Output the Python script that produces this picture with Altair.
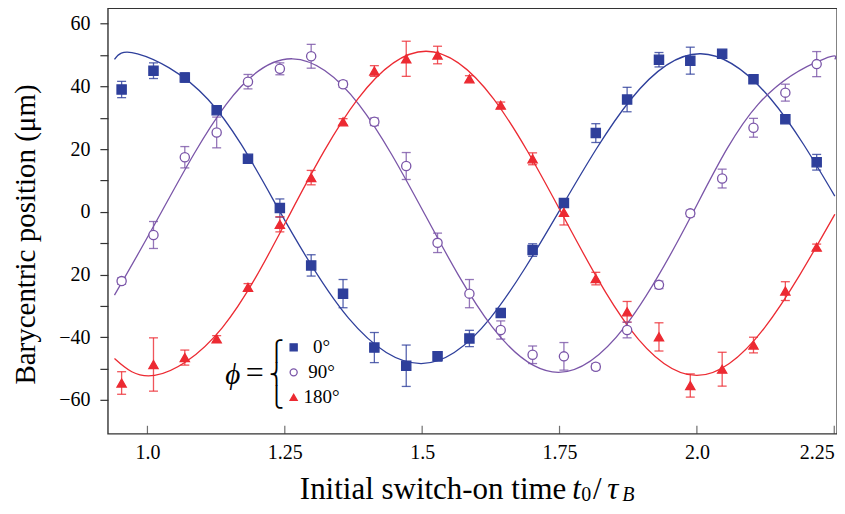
import altair as alt
import pandas as pd

# ---------------- data ----------------
phases = ["0°", "90°", "180°"]

t_values = [0.953, 1.011, 1.068, 1.126, 1.183, 1.241, 1.298, 1.356, 1.413, 1.471,
            1.528, 1.586, 1.643, 1.701, 1.758, 1.816, 1.873, 1.931, 1.988, 2.046,
            2.103, 2.161, 2.218]

pos_0 = [39.0, 45.0, 42.8, 32.4, 16.9, 1.2, -17.1, -26.1, -43.3, -49.1, -46.1, -40.4,
         -32.3, -12.2, 2.8, 25.1, 35.8, 48.5, 48.2, 50.4, 42.3, 29.5, 15.8]
err_0 = [2.6, 2.5, 1.5, 1.0, 1.0, 2.9, 3.4, 4.5, 4.8, 6.6, 1.5, 2.6, 1.2, 2.0, 1.0,
         3.0, 3.9, 2.3, 4.3, 1.0, 1.0, 1.0, 2.5]

pos_90 = [-22.1, -7.4, 17.4, 25.3, 41.5, 45.6, 49.6, 40.7, 28.7, 14.6, -9.9, -26.1,
          -37.7, -45.6, -46.1, -49.4, -37.7, -23.3, -0.5, 10.6, 26.8, 38.0, 47.1]
err_90 = [1.0, 4.3, 3.4, 4.9, 2.3, 1.9, 3.8, 1.0, 1.2, 4.3, 3.1, 4.5, 2.9, 2.8, 4.4,
          1.0, 2.5, 1.2, 1.0, 3.0, 3.0, 2.7, 4.0]

pos_180 = [-54.6, -48.7, -46.5, -40.5, -24.1, -4.0, 10.9, 28.7, 44.9, 48.8, 50.0, 42.4,
           34.0, 16.9, -0.2, -21.3, -31.9, -39.9, -55.4, -50.2, -42.5, -25.3, -11.3]
err_180 = [3.6, 8.5, 2.4, 1.0, 1.2, 2.4, 2.3, 1.0, 1.7, 5.6, 2.8, 1.0, 1.0, 1.9, 4.0,
           2.0, 3.3, 4.5, 3.7, 5.4, 2.5, 3.0, 1.0]

# fitted curves, knots (peaks, troughs, crossings, mid points)
curve_t_0 = [0.940, 0.982, 1.110, 1.238, 1.366, 1.498, 1.624, 1.752, 1.880, 2.007, 2.135, 2.251]
curve_y_0 = [48.6, 50.4, 35.9, 1.0, -33.9, -48.4, -33.9, 1.0, 35.9, 50.4, 35.9, 5.0]

curve_t_90 = [0.940, 1.022, 1.143, 1.264, 1.385, 1.506, 1.627, 1.748, 1.869, 1.990, 2.111, 2.232, 2.251]
curve_y_90 = [-26.6, -1.2, 34.2, 48.8, 34.2, -1.2, -36.6, -51.2, -36.6, -1.2, 34.2, 48.8, 48.6]

curve_t_180 = [0.940, 1.013, 1.136, 1.260, 1.383, 1.507, 1.630, 1.754, 1.877, 2.000, 2.123, 2.251]
curve_y_180 = [-46.8, -52.2, -37.0, -0.5, 36.0, 51.2, 36.0, -0.5, -37.0, -52.2, -37.0, -0.8]

x_ticks = [1.0, 1.25, 1.5, 1.75, 2.0, 2.25]
x_tick_labels = ["1.0", "1.25", "1.5", "1.75", "2.0", "2.25"]
y_ticks = [-60, -50, -40, -30, -20, -10, 0, 10, 20, 30, 40, 50, 60]
y_tick_labels = ["−60", "", "−40", "", "20", "", "0", "", "20", "", "40", "", "60"]

y_title = "Barycentric position (μm)"
x_title_parts = ["Initial switch-on time", "t", "0", "/", "τ", "B"]
legend_lead = ["ϕ", "=", "⎧\n⎨\n⎩"]

# ---------------- styling ----------------
SERIF = "Liberation Serif"
BLUE, PURPLE, RED = "#2E3F9B", "#7A55A8", "#EC2A32"
FRAME = "#333333"

rows = []
for ph, ys, es in zip(phases, [pos_0, pos_90, pos_180], [err_0, err_90, err_180]):
    for t, y, e in zip(t_values, ys, es):
        rows.append(dict(phase=ph, t=t, pos=y, lo=y - e, hi=y + e))
pts = pd.DataFrame(rows)

crows = []
for ph, cts, cys in zip(phases, [curve_t_0, curve_t_90, curve_t_180],
                        [curve_y_0, curve_y_90, curve_y_180]):
    for t, y in zip(cts, cys):
        crows.append(dict(phase=ph, t=t, pos=y))
curves = pd.DataFrame(crows)

ticks_df = pd.DataFrame({"t": x_ticks})
dummy = pd.DataFrame({"a": [0]})


def expr_from(values, labels):
    e = "''"
    for v, l in zip(values, labels):
        e = f"(abs(datum.value - ({v})) < 1e-6 ? '{l}' : {e})"
    return e


xs = alt.Scale(domain=[0.928, 2.255], nice=False, zero=False)
ys = alt.Scale(domain=[-70.8, 64.9], nice=False, zero=False)

xaxis = alt.Axis(values=x_ticks, labelExpr=expr_from(x_ticks, x_tick_labels),
                 ticks=False, tickSize=0, domain=False, grid=False,
                 labelFont=SERIF, labelFontSize=20, labelColor="black",
                 labelPadding=9, labelFlush=6, title=None)
yaxis = alt.Axis(values=y_ticks, labelExpr=expr_from(y_ticks, y_tick_labels),
                 tickSize=8, tickColor=FRAME, tickWidth=1.2, domain=False, grid=False,
                 labelFont=SERIF, labelFontSize=20, labelColor="black",
                 labelPadding=10, title=y_title, titleFont=SERIF, titleFontSize=29,
                 titleFontWeight="normal", titleColor="black", titleAngle=270,
                 titleAlign="center", titleBaseline="alphabetic",
                 titleX=-73, titleY=226)


def X(f):
    return alt.X(f, type="quantitative", scale=xs, axis=xaxis)


def Y(f):
    return alt.Y(f, type="quantitative", scale=ys, axis=yaxis)


# line colours (reverse-ordered domain so this legend-less scale stays apart from the marker legend)
color = alt.Color("phase:N", scale=alt.Scale(domain=phases[::-1], range=[RED, PURPLE, BLUE]),
                  legend=None)

leg = alt.Legend(title=None, orient="none", legendX=176.5, legendY=330,
                 labelFont=SERIF, labelFontSize=19, labelColor="black",
                 labelAlign="center", labelOffset=18.4, rowPadding=5, padding=0,
                 symbolSize=50, symbolStrokeWidth=1.3)

curve_layer = alt.Chart(curves).mark_line(interpolate="natural", strokeWidth=1.3).encode(
    x=X("t"), y=Y("pos"), color=color)

err_layer = alt.Chart(pts).mark_rule(strokeWidth=1.3, opacity=0.8).encode(
    x=X("t"), y=Y("lo"), y2="hi", color=color)
cap_lo = alt.Chart(pts).mark_tick(orient="horizontal", size=9, thickness=1.3, opacity=0.8).encode(
    x=X("t"), y=Y("lo"), color=color)
cap_hi = alt.Chart(pts).mark_tick(orient="horizontal", size=9, thickness=1.3, opacity=0.8).encode(
    x=X("t"), y=Y("hi"), color=color)

point_layer = alt.Chart(pts).mark_point(size=85, opacity=1, strokeWidth=1.3).encode(
    x=X("t"), y=Y("pos"),
    shape=alt.Shape("phase:N", scale=alt.Scale(domain=phases, range=["square", "circle", "triangle-up"]), legend=leg),
    stroke=alt.Stroke("phase:N", scale=alt.Scale(domain=phases, range=[BLUE, PURPLE, RED]), legend=leg),
    fill=alt.Fill("phase:N", scale=alt.Scale(domain=phases, range=[BLUE, "white", RED]), legend=leg),
)

xtick_layer = alt.Chart(ticks_df).mark_tick(orient="vertical", size=8, thickness=1.2, color=FRAME).encode(
    x=X("t"), y=alt.value(422))


def txt(text, x, y, size, style="normal", align="left", baseline="alphabetic", font=SERIF, **kw):
    return alt.Chart(dummy).mark_text(text=text, align=align, baseline=baseline, font=font,
                                      fontSize=size, fontStyle=style, color="black", **kw).encode(
        x=alt.value(x), y=alt.value(y))


texts = [
    txt(x_title_parts[0], 459, 491, 31, align="right"),
    txt(x_title_parts[1], 465, 491, 31, style="italic"),
    txt(x_title_parts[2], 474, 493, 20),
    txt(x_title_parts[3], 490, 491, 31, align="center"),
    txt(x_title_parts[4], 500, 491, 31, style="italic"),
    txt(x_title_parts[5], 515, 493, 20, style="italic"),
    txt(legend_lead[0], 125, 367, 29, style="italic", align="center", baseline="middle"),
    txt(legend_lead[1], 147, 365, 32, align="center", baseline="middle"),
    txt(legend_lead[2], 169, 344, 20, align="center", baseline="middle",
        font="DejaVu Sans", lineBreak="\n", lineHeight=23.3),
]

chart = alt.layer(curve_layer, err_layer, cap_lo, cap_hi, point_layer, xtick_layer, *texts).properties(
    width=730, height=426,
    autosize=alt.AutoSizeParams(type="none"),
    padding={"left": 100, "top": 0, "right": 0, "bottom": 72},
).configure_view(stroke=FRAME, strokeWidth=1.4).configure_legend(
    labelFont=SERIF, labelFontSize=19, labelColor="black", labelAlign="center",
    labelOffset=18.4, rowPadding=5, padding=0, symbolSize=50, symbolStrokeWidth=1.3,
)

chart.save("out.html", embed_options={"renderer": "svg", "actions": False})
